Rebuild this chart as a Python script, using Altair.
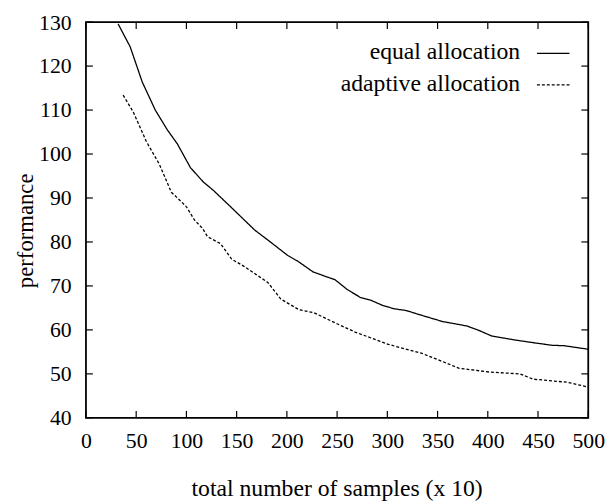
import altair as alt
import pandas as pd

# ---- data ----
equal_x = [32, 44, 56, 69, 81, 91, 104, 117, 127, 144, 168, 183, 201, 211, 226, 238,
           248, 260, 273, 283, 296, 307, 319, 330, 355, 379, 391, 404, 427, 442, 464, 476, 500]
equal_y = [129.6, 124.4, 116.4, 110.0, 105.5, 102.3, 96.9, 93.6, 91.7, 88.0, 82.7, 80.1,
           76.9, 75.6, 73.2, 72.2, 71.4, 69.2, 67.4, 66.8, 65.5, 64.8, 64.4, 63.6, 61.9,
           60.9, 59.9, 58.6, 57.7, 57.2, 56.5, 56.4, 55.6]

adaptive_x = [37, 47, 60, 73, 85, 92, 100, 108, 116, 121, 134, 145, 157, 181, 194, 212,
              227, 248, 268, 301, 334, 355, 371, 402, 432, 445, 464, 479, 500]
adaptive_y = [113.4, 109.6, 102.9, 97.7, 91.3, 89.8, 88.0, 85.0, 83.1, 81.2, 79.6, 76.1,
              74.5, 70.8, 67.0, 64.6, 63.9, 61.6, 59.5, 56.7, 54.7, 52.8, 51.3, 50.4,
              50.0, 48.8, 48.4, 48.1, 47.0]

series_names = ["equal allocation", "adaptive allocation"]
series_dash = [[1, 0], [3, 2]]
x_ticks = [0, 50, 100, 150, 200, 250, 300, 350, 400, 450, 500]
y_ticks = [40, 50, 60, 70, 80, 90, 100, 110, 120, 130]

W, H = 509, 401
FONT = "Liberation Serif"

df = pd.DataFrame(
    {"x": equal_x + adaptive_x,
     "y": equal_y + adaptive_y,
     "series": [series_names[0]] * len(equal_x) + [series_names[1]] * len(adaptive_x)}
)
xt = pd.DataFrame({"x": x_ticks})
yt = pd.DataFrame({"y": y_ticks})

xscale = alt.Scale(domain=[0, 500], nice=False, zero=False)
yscale = alt.Scale(domain=[40, 130], nice=False, zero=False)
dash_scale = alt.Scale(domain=series_names, range=series_dash)

xaxis = alt.Axis(values=x_ticks, ticks=False, domain=False, grid=False,
                 labelFont=FONT, labelFontSize=22, labelColor="black",
                 labelPadding=13, labelFlush=False, labelOverlap=False,
                 titleFont=FONT, titleFontSize=24, titleFontWeight="normal",
                 titleColor="black", titleX=254, titleY=79,
                 titleAlign="center", titleBaseline="alphabetic")
yaxis = alt.Axis(values=y_ticks, ticks=False, domain=False, grid=False,
                 labelFont=FONT, labelFontSize=22, labelColor="black",
                 labelPadding=15, labelFlush=False, labelOverlap=False,
                 titleFont=FONT, titleFontSize=23, titleFontWeight="normal",
                 titleColor="black", titleX=-54, titleY=211,
                 titleAlign="center", titleBaseline="alphabetic",
                 titleAngle=270)
XT = "total number of samples (x 10)"
YT = "performance"

lines = alt.Chart(df).mark_line(strokeWidth=1.3, clip=True).encode(
    x=alt.X("x:Q", scale=xscale, axis=xaxis, title=XT),
    y=alt.Y("y:Q", scale=yscale, axis=yaxis, title=YT),
    strokeDash=alt.StrokeDash("series:N", scale=dash_scale, legend=None),
    color=alt.value("black"),
    detail="series:N",
)

TL = 7
tick_bottom = alt.Chart(xt).mark_rule(color="black", strokeWidth=1.2).encode(
    x=alt.X("x:Q", scale=xscale, axis=xaxis, title=XT), y=alt.value(H), y2=alt.value(H - TL))
tick_top = alt.Chart(xt).mark_rule(color="black", strokeWidth=1.2).encode(
    x=alt.X("x:Q", scale=xscale, axis=xaxis, title=XT), y=alt.value(0), y2=alt.value(TL))
tick_left = alt.Chart(yt).mark_rule(color="black", strokeWidth=1.2).encode(
    y=alt.Y("y:Q", scale=yscale, axis=yaxis, title=YT), x=alt.value(0), x2=alt.value(TL))
tick_right = alt.Chart(yt).mark_rule(color="black", strokeWidth=1.2).encode(
    y=alt.Y("y:Q", scale=yscale, axis=yaxis, title=YT), x=alt.value(W - TL), x2=alt.value(W))

# legend (gnuplot style: label on the left, sample on the right)
legend_layers = []
text_y = [37.7, 69.3]
line_y = [31.7, 63.7]
for i, name in enumerate(series_names):
    d = pd.DataFrame({"series": [name]})
    legend_layers.append(
        alt.Chart(d).mark_text(font=FONT, fontSize=24, align="right",
                               baseline="alphabetic", color="black").encode(
            text="series:N", x=alt.value(440), y=alt.value(text_y[i]))
    )
    legend_layers.append(
        alt.Chart(d).mark_rule(color="black", strokeWidth=1.3,
                               strokeDash=series_dash[i]).encode(
            x=alt.value(457), x2=alt.value(490), y=alt.value(line_y[i]))
    )

chart = alt.layer(
    lines, tick_bottom, tick_top, tick_left, tick_right, *legend_layers
).properties(
    width=W, height=H,
    autosize=alt.AutoSizeParams(type="none"),
    padding={"left": 79, "top": 11, "right": 19, "bottom": 83},
).configure(
    background="white", font=FONT
).configure_view(stroke="black", strokeWidth=1.8)

chart.save("out.html", embed_options={"renderer": "svg", "actions": False})
